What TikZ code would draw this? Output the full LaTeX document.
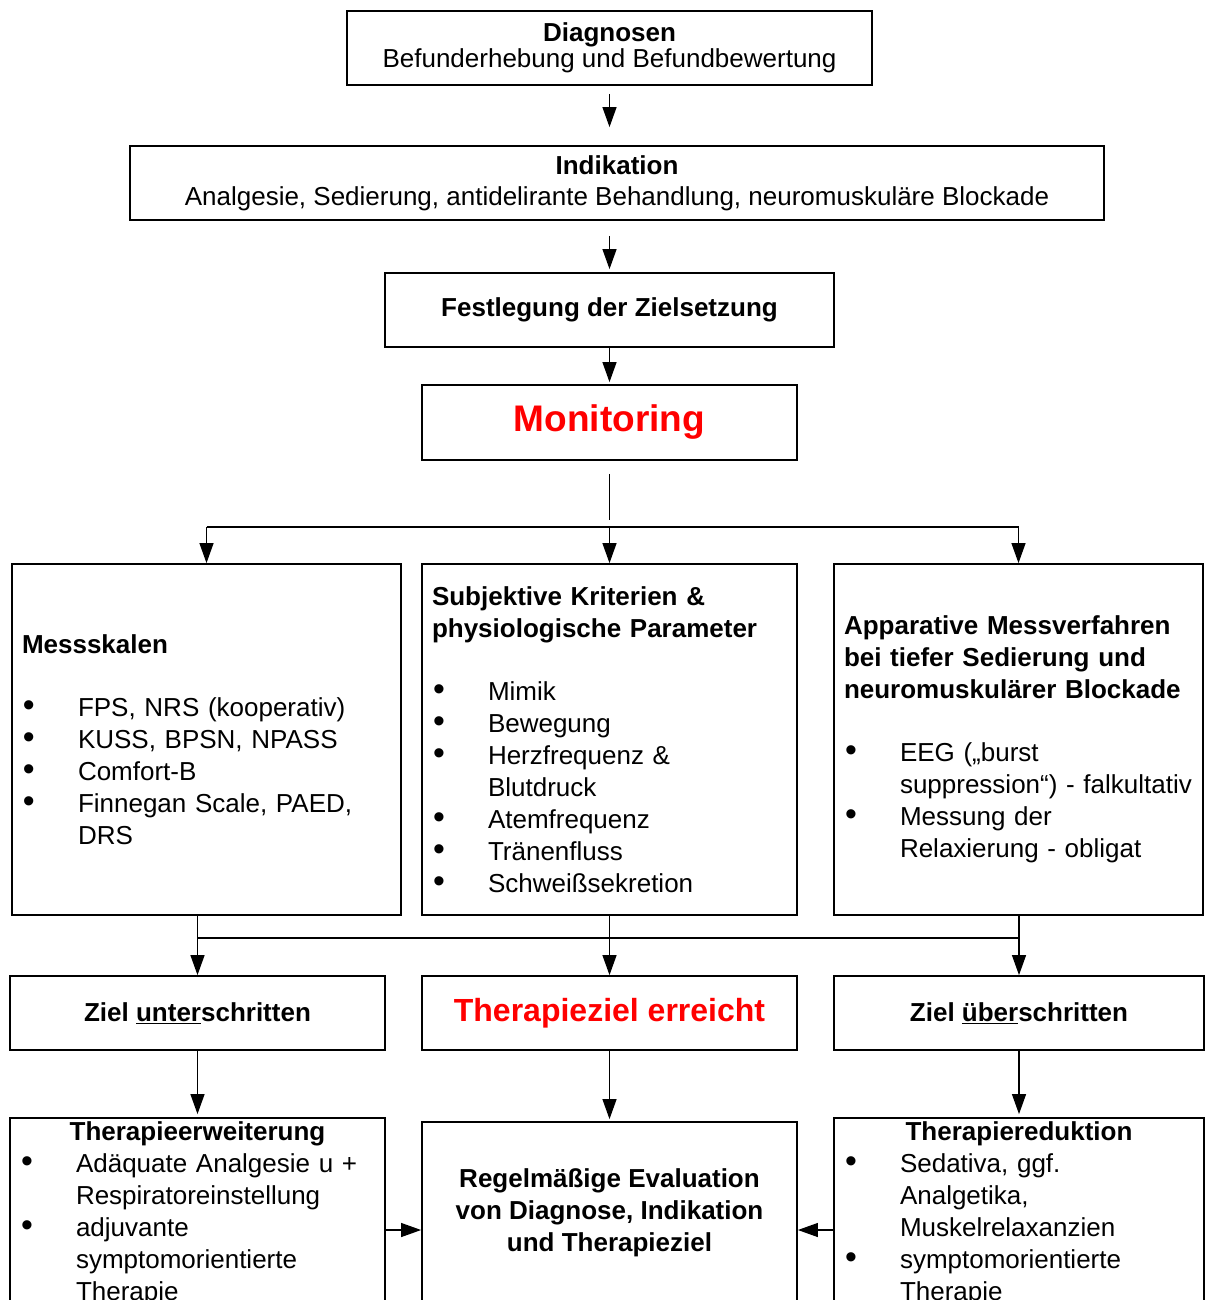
\documentclass[tikz,border=0pt]{standalone}
\usepackage{fontspec}
\setmainfont{Liberation Sans}
\usetikzlibrary{arrows.meta}
\definecolor{alarm}{HTML}{FF0000}
\newcommand{\itm}[1]{\makebox[56pt][l]{\hspace{1pt}\scalebox{1.3}{\textbullet}}\mbox{#1}}
\newcommand{\cnt}[1]{\hspace*{56pt}\mbox{#1}}

\begin{document}
\begin{tikzpicture}[x=1pt, y=-1pt,
  bx/.style={draw, line width=1.8pt, inner xsep=10pt, inner ysep=0pt,
             font=\fontsize{26}{32}\selectfont},
  ln/.style={line width=1.2pt},
  arr/.style={ln, -{Triangle[width=14pt,length=20pt]}},
]
\useasboundingbox (0,0) rectangle (1204,1300);

% top chain
\node[bx, minimum width=525pt, minimum height=74pt, align=center,
      font=\fontsize{26}{26}\selectfont] (diag) at (609.5,48)
  {\textbf{Diagnosen}\\Befunderhebung und Befundbewertung};
\node[bx, minimum width=974pt, minimum height=74pt, align=center,
      font=\fontsize{26}{31}\selectfont] (indik) at (617,183)
  {\textbf{Indikation}\\Analgesie, Sedierung, antidelirante Behandlung, neuromuskuläre Blockade};
\node[bx, minimum width=449pt, minimum height=74pt] (ziel) at (609.5,310)
  {\textbf{Festlegung der Zielsetzung}};
\node[bx, minimum width=375pt, minimum height=75pt, text=alarm,
      font=\fontsize{37}{40}\selectfont\bfseries] (mon) at (609.5,422.5) {Monitoring};

% monitoring methods
\node[bx, minimum width=389pt, minimum height=351pt, text width=369pt, align=left]
  (mess) at (206.5,739.5) {
  \textbf{Messskalen}\\[31pt]
  \itm{FPS, NRS (kooperativ)}\\
  \itm{KUSS, BPSN, NPASS}\\
  \itm{Comfort-B}\\
  \itm{Finnegan Scale, PAED,}\\
  \cnt{DRS}
};
\node[bx, minimum width=375pt, minimum height=351pt, text width=355pt, align=left]
  (subj) at (609.5,739.5) {
  \textbf{Subjektive Kriterien \&}\\
  \textbf{physiologische Parameter}\\[31pt]
  \itm{Mimik}\\
  \itm{Bewegung}\\
  \itm{Herzfrequenz \&}\\
  \cnt{Blutdruck}\\
  \itm{Atemfrequenz}\\
  \itm{Tränenfluss}\\
  \itm{Schweißsekretion}
};
\node[bx, minimum width=369pt, minimum height=351pt, text width=349pt, align=left]
  (appar) at (1018.5,739.5) {
  \textbf{Apparative Messverfahren}\\
  \textbf{bei tiefer Sedierung und}\\
  \textbf{neuromuskulärer Blockade}\\[31pt]
  \itm{EEG („burst}\\
  \cnt{suppression“) - falkultativ}\\
  \itm{Messung der}\\
  \cnt{Relaxierung - obligat}
};

% outcome
\node[bx, minimum width=375pt, minimum height=74pt] (unter) at (197.5,1013)
  {\textbf{Ziel \underline{unter}schritten}};
\node[bx, minimum width=375pt, minimum height=74pt, text=alarm,
      font=\fontsize{32}{36}\selectfont] (erreicht) at (609.5,1013)
  {\textbf{Therapieziel erreicht}};
\node[bx, minimum width=370pt, minimum height=74pt] (ueber) at (1019,1013)
  {\textbf{Ziel \underline{über}schritten}};

% therapy
\node[bx, minimum width=375pt, minimum height=191pt, text width=355pt, align=left]
  (erw) at (197.5,1213.5) {
  \makebox[355pt][c]{\textbf{Therapieerweiterung}}\\
  \itm{Adäquate Analgesie u +}\\
  \cnt{Respiratoreinstellung}\\
  \itm{adjuvante}\\
  \cnt{symptomorientierte}\\
  \cnt{Therapie}
};
\node[bx, minimum width=375pt, minimum height=182pt, align=center] (eval) at (609.5,1213)
  {\textbf{Regelmäßige Evaluation}\\\textbf{von Diagnose, Indikation}\\\textbf{und Therapieziel}};
\node[bx, minimum width=370pt, minimum height=191pt, text width=350pt, align=left]
  (red) at (1019,1213.5) {
  \makebox[350pt][c]{\textbf{Therapiereduktion}}\\
  \itm{Sedativa, ggf.}\\
  \cnt{Analgetika,}\\
  \cnt{Muskelrelaxanzien}\\
  \itm{symptomorientierte}\\
  \cnt{Therapie}
};

% connectors
\coordinate (split) at (609.5,520);
\coordinate (hub) at (609.5,527);
\coordinate (hubb) at (609.5,938);
\draw[arr, shorten <=8pt, shorten >=18pt] (diag.south) -- (diag.south |- indik.north);
\draw[arr, shorten <=15pt, shorten >=3pt] (indik.south -| ziel.north) -- (ziel.north);
\draw[arr, shorten >=2pt] (ziel.south) -- (mon.north);
\draw[ln, shorten <=13pt] (mon.south) -- (split);
\draw[ln] (hub -| mess.north) -- (hub -| appar.north);
\draw[arr] (hub -| mess.north) -- (mess.north);
\draw[arr] (hub) -- (subj.north);
\draw[arr] (hub -| appar.north) -- (appar.north);

\draw[arr] (mess.south -| unter.north) -- (unter.north);
\draw[arr] (subj.south) -- (erreicht.north);
\draw[arr] (appar.south -| ueber.north) -- (ueber.north);
\draw[ln] (hubb -| unter.north) -- (hubb -| ueber.north);

\draw[arr, shorten >=3pt] (unter.south) -- (erw.north);
\draw[arr, shorten >=2pt] (erreicht.south) -- (eval.north);
\draw[arr, shorten >=3pt] (ueber.south) -- (red.north);
\draw[arr] ([yshift=-16.5pt]erw.east) -- ([yshift=-16.5pt]erw.east -| eval.west);
\draw[arr] ([yshift=-16.5pt]red.west) -- ([yshift=-16.5pt]red.west -| eval.east);
\end{tikzpicture}
\end{document}
